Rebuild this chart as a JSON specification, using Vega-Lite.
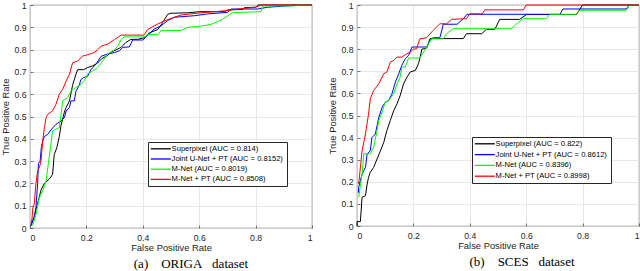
{
  "$schema": "https://vega.github.io/schema/vega-lite/v6.json",
  "padding": {"left": 0, "top": 0, "right": 0, "bottom": 0},
  "spacing": 12,
  "config": {
    "view": {"stroke": "#262626", "strokeWidth": 0.8},
    "axis": {
      "domain": false,
      "grid": true,
      "gridColor": "#e2e2e2",
      "gridWidth": 0.8,
      "tickSize": -3,
      "tickColor": "#262626",
      "tickWidth": 0.6,
      "labelFont": "Liberation Sans",
      "labelFontSize": 8.7,
      "labelColor": "#262626",
      "titleFont": "Liberation Sans",
      "titleFontSize": 9.4,
      "titleFontWeight": "normal",
      "titleColor": "#262626"
    },
    "axisX": {"labelPadding": 8, "titlePadding": 2},
    "axisY": {"labelPadding": 7, "titlePadding": 3},
    "legend": {
      "orient": "none",
      "title": null,
      "symbolType": "M-2,0H8",
      "symbolSize": 16,
      "symbolStrokeWidth": 1.3,
      "labelFont": "Liberation Sans",
      "labelFontSize": 7.6,
      "labelColor": "#000000",
      "labelOffset": 13,
      "rowPadding": 1.2,
      "padding": 3,
      "strokeColor": "#262626",
      "fillColor": "#ffffff"
    },
    "title": {"font": "Liberation Serif", "fontSize": 13, "fontWeight": "normal", "color": "#000000", "orient": "bottom", "offset": 6}
  },
  "resolve": {"scale": {"color": "independent"}, "legend": {"color": "independent"}},
  "datasets": {
    "origa": [
      {"s":"Superpixel (AUC = 0.814)","x":0.003,"y":0.01},{"s":"Superpixel (AUC = 0.814)","x":0.015,"y":0.05},{"s":"Superpixel (AUC = 0.814)","x":0.027,"y":0.11},{"s":"Superpixel (AUC = 0.814)","x":0.035,"y":0.15},{"s":"Superpixel (AUC = 0.814)","x":0.039,"y":0.17},{"s":"Superpixel (AUC = 0.814)","x":0.051,"y":0.2},{"s":"Superpixel (AUC = 0.814)","x":0.069,"y":0.22},{"s":"Superpixel (AUC = 0.814)","x":0.08,"y":0.24},{"s":"Superpixel (AUC = 0.814)","x":0.086,"y":0.33},{"s":"Superpixel (AUC = 0.814)","x":0.095,"y":0.36},{"s":"Superpixel (AUC = 0.814)","x":0.104,"y":0.41},{"s":"Superpixel (AUC = 0.814)","x":0.11,"y":0.46},{"s":"Superpixel (AUC = 0.814)","x":0.122,"y":0.52},{"s":"Superpixel (AUC = 0.814)","x":0.128,"y":0.54},{"s":"Superpixel (AUC = 0.814)","x":0.14,"y":0.57},{"s":"Superpixel (AUC = 0.814)","x":0.151,"y":0.64},{"s":"Superpixel (AUC = 0.814)","x":0.163,"y":0.69},{"s":"Superpixel (AUC = 0.814)","x":0.169,"y":0.71},{"s":"Superpixel (AUC = 0.814)","x":0.19,"y":0.71},{"s":"Superpixel (AUC = 0.814)","x":0.205,"y":0.72},{"s":"Superpixel (AUC = 0.814)","x":0.222,"y":0.727},{"s":"Superpixel (AUC = 0.814)","x":0.24,"y":0.74},{"s":"Superpixel (AUC = 0.814)","x":0.255,"y":0.76},{"s":"Superpixel (AUC = 0.814)","x":0.27,"y":0.77},{"s":"Superpixel (AUC = 0.814)","x":0.29,"y":0.79},{"s":"Superpixel (AUC = 0.814)","x":0.323,"y":0.81},{"s":"Superpixel (AUC = 0.814)","x":0.34,"y":0.832},{"s":"Superpixel (AUC = 0.814)","x":0.358,"y":0.846},{"s":"Superpixel (AUC = 0.814)","x":0.382,"y":0.846},{"s":"Superpixel (AUC = 0.814)","x":0.405,"y":0.853},{"s":"Superpixel (AUC = 0.814)","x":0.423,"y":0.875},{"s":"Superpixel (AUC = 0.814)","x":0.453,"y":0.89},{"s":"Superpixel (AUC = 0.814)","x":0.47,"y":0.92},{"s":"Superpixel (AUC = 0.814)","x":0.488,"y":0.958},{"s":"Superpixel (AUC = 0.814)","x":0.5,"y":0.963},{"s":"Superpixel (AUC = 0.814)","x":0.56,"y":0.965},{"s":"Superpixel (AUC = 0.814)","x":0.6,"y":0.97},{"s":"Superpixel (AUC = 0.814)","x":0.69,"y":0.97},{"s":"Superpixel (AUC = 0.814)","x":0.7,"y":0.978},{"s":"Superpixel (AUC = 0.814)","x":0.755,"y":0.98},{"s":"Superpixel (AUC = 0.814)","x":0.76,"y":0.988},{"s":"Superpixel (AUC = 0.814)","x":0.8,"y":0.99},{"s":"Superpixel (AUC = 0.814)","x":0.81,"y":1},{"s":"Superpixel (AUC = 0.814)","x":1,"y":1},
      {"s":"Joint U-Net + PT (AUC = 0.8152)","x":0.003,"y":0.01},{"s":"Joint U-Net + PT (AUC = 0.8152)","x":0.015,"y":0.05},{"s":"Joint U-Net + PT (AUC = 0.8152)","x":0.021,"y":0.09},{"s":"Joint U-Net + PT (AUC = 0.8152)","x":0.027,"y":0.2},{"s":"Joint U-Net + PT (AUC = 0.8152)","x":0.03,"y":0.29},{"s":"Joint U-Net + PT (AUC = 0.8152)","x":0.036,"y":0.3},{"s":"Joint U-Net + PT (AUC = 0.8152)","x":0.04,"y":0.36},{"s":"Joint U-Net + PT (AUC = 0.8152)","x":0.045,"y":0.39},{"s":"Joint U-Net + PT (AUC = 0.8152)","x":0.051,"y":0.41},{"s":"Joint U-Net + PT (AUC = 0.8152)","x":0.063,"y":0.42},{"s":"Joint U-Net + PT (AUC = 0.8152)","x":0.074,"y":0.44},{"s":"Joint U-Net + PT (AUC = 0.8152)","x":0.092,"y":0.465},{"s":"Joint U-Net + PT (AUC = 0.8152)","x":0.11,"y":0.48},{"s":"Joint U-Net + PT (AUC = 0.8152)","x":0.122,"y":0.495},{"s":"Joint U-Net + PT (AUC = 0.8152)","x":0.128,"y":0.525},{"s":"Joint U-Net + PT (AUC = 0.8152)","x":0.14,"y":0.54},{"s":"Joint U-Net + PT (AUC = 0.8152)","x":0.145,"y":0.57},{"s":"Joint U-Net + PT (AUC = 0.8152)","x":0.157,"y":0.57},{"s":"Joint U-Net + PT (AUC = 0.8152)","x":0.163,"y":0.614},{"s":"Joint U-Net + PT (AUC = 0.8152)","x":0.175,"y":0.64},{"s":"Joint U-Net + PT (AUC = 0.8152)","x":0.18,"y":0.665},{"s":"Joint U-Net + PT (AUC = 0.8152)","x":0.19,"y":0.675},{"s":"Joint U-Net + PT (AUC = 0.8152)","x":0.204,"y":0.68},{"s":"Joint U-Net + PT (AUC = 0.8152)","x":0.216,"y":0.71},{"s":"Joint U-Net + PT (AUC = 0.8152)","x":0.234,"y":0.735},{"s":"Joint U-Net + PT (AUC = 0.8152)","x":0.252,"y":0.77},{"s":"Joint U-Net + PT (AUC = 0.8152)","x":0.275,"y":0.78},{"s":"Joint U-Net + PT (AUC = 0.8152)","x":0.3,"y":0.787},{"s":"Joint U-Net + PT (AUC = 0.8152)","x":0.317,"y":0.795},{"s":"Joint U-Net + PT (AUC = 0.8152)","x":0.329,"y":0.81},{"s":"Joint U-Net + PT (AUC = 0.8152)","x":0.352,"y":0.812},{"s":"Joint U-Net + PT (AUC = 0.8152)","x":0.364,"y":0.843},{"s":"Joint U-Net + PT (AUC = 0.8152)","x":0.4,"y":0.843},{"s":"Joint U-Net + PT (AUC = 0.8152)","x":0.423,"y":0.87},{"s":"Joint U-Net + PT (AUC = 0.8152)","x":0.44,"y":0.892},{"s":"Joint U-Net + PT (AUC = 0.8152)","x":0.465,"y":0.907},{"s":"Joint U-Net + PT (AUC = 0.8152)","x":0.488,"y":0.93},{"s":"Joint U-Net + PT (AUC = 0.8152)","x":0.512,"y":0.945},{"s":"Joint U-Net + PT (AUC = 0.8152)","x":0.583,"y":0.952},{"s":"Joint U-Net + PT (AUC = 0.8152)","x":0.63,"y":0.96},{"s":"Joint U-Net + PT (AUC = 0.8152)","x":0.7,"y":0.967},{"s":"Joint U-Net + PT (AUC = 0.8152)","x":0.713,"y":0.982},{"s":"Joint U-Net + PT (AUC = 0.8152)","x":0.807,"y":0.982},{"s":"Joint U-Net + PT (AUC = 0.8152)","x":0.843,"y":0.99},{"s":"Joint U-Net + PT (AUC = 0.8152)","x":0.925,"y":0.997},{"s":"Joint U-Net + PT (AUC = 0.8152)","x":0.937,"y":1},{"s":"Joint U-Net + PT (AUC = 0.8152)","x":1,"y":1},
      {"s":"M-Net (AUC = 0.8019)","x":0.009,"y":0.01},{"s":"M-Net (AUC = 0.8019)","x":0.021,"y":0.06},{"s":"M-Net (AUC = 0.8019)","x":0.033,"y":0.136},{"s":"M-Net (AUC = 0.8019)","x":0.045,"y":0.166},{"s":"M-Net (AUC = 0.8019)","x":0.057,"y":0.21},{"s":"M-Net (AUC = 0.8019)","x":0.063,"y":0.27},{"s":"M-Net (AUC = 0.8019)","x":0.074,"y":0.375},{"s":"M-Net (AUC = 0.8019)","x":0.08,"y":0.435},{"s":"M-Net (AUC = 0.8019)","x":0.092,"y":0.443},{"s":"M-Net (AUC = 0.8019)","x":0.104,"y":0.45},{"s":"M-Net (AUC = 0.8019)","x":0.11,"y":0.51},{"s":"M-Net (AUC = 0.8019)","x":0.116,"y":0.57},{"s":"M-Net (AUC = 0.8019)","x":0.134,"y":0.585},{"s":"M-Net (AUC = 0.8019)","x":0.145,"y":0.614},{"s":"M-Net (AUC = 0.8019)","x":0.163,"y":0.63},{"s":"M-Net (AUC = 0.8019)","x":0.181,"y":0.645},{"s":"M-Net (AUC = 0.8019)","x":0.193,"y":0.66},{"s":"M-Net (AUC = 0.8019)","x":0.204,"y":0.69},{"s":"M-Net (AUC = 0.8019)","x":0.222,"y":0.704},{"s":"M-Net (AUC = 0.8019)","x":0.24,"y":0.72},{"s":"M-Net (AUC = 0.8019)","x":0.263,"y":0.757},{"s":"M-Net (AUC = 0.8019)","x":0.275,"y":0.78},{"s":"M-Net (AUC = 0.8019)","x":0.3,"y":0.8},{"s":"M-Net (AUC = 0.8019)","x":0.311,"y":0.815},{"s":"M-Net (AUC = 0.8019)","x":0.323,"y":0.845},{"s":"M-Net (AUC = 0.8019)","x":0.334,"y":0.857},{"s":"M-Net (AUC = 0.8019)","x":0.41,"y":0.857},{"s":"M-Net (AUC = 0.8019)","x":0.415,"y":0.868},{"s":"M-Net (AUC = 0.8019)","x":0.455,"y":0.868},{"s":"M-Net (AUC = 0.8019)","x":0.465,"y":0.886},{"s":"M-Net (AUC = 0.8019)","x":0.535,"y":0.886},{"s":"M-Net (AUC = 0.8019)","x":0.56,"y":0.9},{"s":"M-Net (AUC = 0.8019)","x":0.606,"y":0.905},{"s":"M-Net (AUC = 0.8019)","x":0.642,"y":0.913},{"s":"M-Net (AUC = 0.8019)","x":0.683,"y":0.936},{"s":"M-Net (AUC = 0.8019)","x":0.719,"y":0.966},{"s":"M-Net (AUC = 0.8019)","x":0.819,"y":0.97},{"s":"M-Net (AUC = 0.8019)","x":0.825,"y":0.996},{"s":"M-Net (AUC = 0.8019)","x":0.937,"y":0.996},{"s":"M-Net (AUC = 0.8019)","x":0.943,"y":1},{"s":"M-Net (AUC = 0.8019)","x":1,"y":1},
      {"s":"M-Net + PT (AUC = 0.8508)","x":0.003,"y":0.02},{"s":"M-Net + PT (AUC = 0.8508)","x":0.007,"y":0.04},{"s":"M-Net + PT (AUC = 0.8508)","x":0.01,"y":0.09},{"s":"M-Net + PT (AUC = 0.8508)","x":0.015,"y":0.106},{"s":"M-Net + PT (AUC = 0.8508)","x":0.021,"y":0.2},{"s":"M-Net + PT (AUC = 0.8508)","x":0.027,"y":0.256},{"s":"M-Net + PT (AUC = 0.8508)","x":0.033,"y":0.27},{"s":"M-Net + PT (AUC = 0.8508)","x":0.039,"y":0.3},{"s":"M-Net + PT (AUC = 0.8508)","x":0.045,"y":0.39},{"s":"M-Net + PT (AUC = 0.8508)","x":0.051,"y":0.45},{"s":"M-Net + PT (AUC = 0.8508)","x":0.057,"y":0.495},{"s":"M-Net + PT (AUC = 0.8508)","x":0.063,"y":0.51},{"s":"M-Net + PT (AUC = 0.8508)","x":0.08,"y":0.525},{"s":"M-Net + PT (AUC = 0.8508)","x":0.092,"y":0.555},{"s":"M-Net + PT (AUC = 0.8508)","x":0.104,"y":0.6},{"s":"M-Net + PT (AUC = 0.8508)","x":0.116,"y":0.622},{"s":"M-Net + PT (AUC = 0.8508)","x":0.128,"y":0.659},{"s":"M-Net + PT (AUC = 0.8508)","x":0.14,"y":0.689},{"s":"M-Net + PT (AUC = 0.8508)","x":0.151,"y":0.741},{"s":"M-Net + PT (AUC = 0.8508)","x":0.169,"y":0.749},{"s":"M-Net + PT (AUC = 0.8508)","x":0.187,"y":0.771},{"s":"M-Net + PT (AUC = 0.8508)","x":0.21,"y":0.779},{"s":"M-Net + PT (AUC = 0.8508)","x":0.228,"y":0.787},{"s":"M-Net + PT (AUC = 0.8508)","x":0.24,"y":0.8},{"s":"M-Net + PT (AUC = 0.8508)","x":0.252,"y":0.815},{"s":"M-Net + PT (AUC = 0.8508)","x":0.276,"y":0.825},{"s":"M-Net + PT (AUC = 0.8508)","x":0.3,"y":0.845},{"s":"M-Net + PT (AUC = 0.8508)","x":0.323,"y":0.865},{"s":"M-Net + PT (AUC = 0.8508)","x":0.404,"y":0.865},{"s":"M-Net + PT (AUC = 0.8508)","x":0.417,"y":0.89},{"s":"M-Net + PT (AUC = 0.8508)","x":0.453,"y":0.915},{"s":"M-Net + PT (AUC = 0.8508)","x":0.49,"y":0.935},{"s":"M-Net + PT (AUC = 0.8508)","x":0.535,"y":0.955},{"s":"M-Net + PT (AUC = 0.8508)","x":0.606,"y":0.965},{"s":"M-Net + PT (AUC = 0.8508)","x":0.7,"y":0.975},{"s":"M-Net + PT (AUC = 0.8508)","x":0.725,"y":0.98},{"s":"M-Net + PT (AUC = 0.8508)","x":0.8,"y":0.99},{"s":"M-Net + PT (AUC = 0.8508)","x":0.82,"y":1},{"s":"M-Net + PT (AUC = 0.8508)","x":1,"y":1}
    ],
    "sces": [
      {"s":"Superpixel (AUC = 0.822)","x":0,"y":0},{"s":"Superpixel (AUC = 0.822)","x":0,"y":0.02},{"s":"Superpixel (AUC = 0.822)","x":0.012,"y":0.02},{"s":"Superpixel (AUC = 0.822)","x":0.018,"y":0.13},{"s":"Superpixel (AUC = 0.822)","x":0.03,"y":0.137},{"s":"Superpixel (AUC = 0.822)","x":0.036,"y":0.19},{"s":"Superpixel (AUC = 0.822)","x":0.041,"y":0.22},{"s":"Superpixel (AUC = 0.822)","x":0.047,"y":0.243},{"s":"Superpixel (AUC = 0.822)","x":0.059,"y":0.265},{"s":"Superpixel (AUC = 0.822)","x":0.071,"y":0.303},{"s":"Superpixel (AUC = 0.822)","x":0.083,"y":0.34},{"s":"Superpixel (AUC = 0.822)","x":0.095,"y":0.379},{"s":"Superpixel (AUC = 0.822)","x":0.106,"y":0.432},{"s":"Superpixel (AUC = 0.822)","x":0.118,"y":0.477},{"s":"Superpixel (AUC = 0.822)","x":0.13,"y":0.522},{"s":"Superpixel (AUC = 0.822)","x":0.142,"y":0.553},{"s":"Superpixel (AUC = 0.822)","x":0.153,"y":0.59},{"s":"Superpixel (AUC = 0.822)","x":0.165,"y":0.643},{"s":"Superpixel (AUC = 0.822)","x":0.177,"y":0.673},{"s":"Superpixel (AUC = 0.822)","x":0.189,"y":0.697},{"s":"Superpixel (AUC = 0.822)","x":0.207,"y":0.704},{"s":"Superpixel (AUC = 0.822)","x":0.218,"y":0.734},{"s":"Superpixel (AUC = 0.822)","x":0.224,"y":0.764},{"s":"Superpixel (AUC = 0.822)","x":0.23,"y":0.8},{"s":"Superpixel (AUC = 0.822)","x":0.247,"y":0.805},{"s":"Superpixel (AUC = 0.822)","x":0.259,"y":0.848},{"s":"Superpixel (AUC = 0.822)","x":0.377,"y":0.848},{"s":"Superpixel (AUC = 0.822)","x":0.388,"y":0.87},{"s":"Superpixel (AUC = 0.822)","x":0.442,"y":0.87},{"s":"Superpixel (AUC = 0.822)","x":0.459,"y":0.89},{"s":"Superpixel (AUC = 0.822)","x":0.489,"y":0.89},{"s":"Superpixel (AUC = 0.822)","x":0.506,"y":0.935},{"s":"Superpixel (AUC = 0.822)","x":0.577,"y":0.935},{"s":"Superpixel (AUC = 0.822)","x":0.601,"y":0.957},{"s":"Superpixel (AUC = 0.822)","x":0.778,"y":0.957},{"s":"Superpixel (AUC = 0.822)","x":0.8,"y":1},{"s":"Superpixel (AUC = 0.822)","x":1,"y":1},
      {"s":"Joint U-Net + PT (AUC = 0.8612)","x":0.005,"y":0.15},{"s":"Joint U-Net + PT (AUC = 0.8612)","x":0.006,"y":0.175},{"s":"Joint U-Net + PT (AUC = 0.8612)","x":0.018,"y":0.235},{"s":"Joint U-Net + PT (AUC = 0.8612)","x":0.03,"y":0.265},{"s":"Joint U-Net + PT (AUC = 0.8612)","x":0.036,"y":0.327},{"s":"Joint U-Net + PT (AUC = 0.8612)","x":0.047,"y":0.34},{"s":"Joint U-Net + PT (AUC = 0.8612)","x":0.053,"y":0.4},{"s":"Joint U-Net + PT (AUC = 0.8612)","x":0.065,"y":0.416},{"s":"Joint U-Net + PT (AUC = 0.8612)","x":0.077,"y":0.49},{"s":"Joint U-Net + PT (AUC = 0.8612)","x":0.089,"y":0.537},{"s":"Joint U-Net + PT (AUC = 0.8612)","x":0.1,"y":0.56},{"s":"Joint U-Net + PT (AUC = 0.8612)","x":0.112,"y":0.567},{"s":"Joint U-Net + PT (AUC = 0.8612)","x":0.124,"y":0.598},{"s":"Joint U-Net + PT (AUC = 0.8612)","x":0.136,"y":0.651},{"s":"Joint U-Net + PT (AUC = 0.8612)","x":0.148,"y":0.689},{"s":"Joint U-Net + PT (AUC = 0.8612)","x":0.159,"y":0.727},{"s":"Joint U-Net + PT (AUC = 0.8612)","x":0.171,"y":0.757},{"s":"Joint U-Net + PT (AUC = 0.8612)","x":0.183,"y":0.772},{"s":"Joint U-Net + PT (AUC = 0.8612)","x":0.195,"y":0.81},{"s":"Joint U-Net + PT (AUC = 0.8612)","x":0.247,"y":0.81},{"s":"Joint U-Net + PT (AUC = 0.8612)","x":0.259,"y":0.84},{"s":"Joint U-Net + PT (AUC = 0.8612)","x":0.27,"y":0.852},{"s":"Joint U-Net + PT (AUC = 0.8612)","x":0.294,"y":0.852},{"s":"Joint U-Net + PT (AUC = 0.8612)","x":0.306,"y":0.913},{"s":"Joint U-Net + PT (AUC = 0.8612)","x":0.355,"y":0.913},{"s":"Joint U-Net + PT (AUC = 0.8612)","x":0.377,"y":0.938},{"s":"Joint U-Net + PT (AUC = 0.8612)","x":0.39,"y":0.958},{"s":"Joint U-Net + PT (AUC = 0.8612)","x":0.72,"y":0.958},{"s":"Joint U-Net + PT (AUC = 0.8612)","x":0.73,"y":0.982},{"s":"Joint U-Net + PT (AUC = 0.8612)","x":0.955,"y":0.982},{"s":"Joint U-Net + PT (AUC = 0.8612)","x":0.965,"y":1},{"s":"Joint U-Net + PT (AUC = 0.8612)","x":1,"y":1},
      {"s":"M-Net (AUC = 0.8396)","x":0.006,"y":0.13},{"s":"M-Net (AUC = 0.8396)","x":0.018,"y":0.235},{"s":"M-Net (AUC = 0.8396)","x":0.024,"y":0.327},{"s":"M-Net (AUC = 0.8396)","x":0.047,"y":0.327},{"s":"M-Net (AUC = 0.8396)","x":0.059,"y":0.356},{"s":"M-Net (AUC = 0.8396)","x":0.071,"y":0.431},{"s":"M-Net (AUC = 0.8396)","x":0.077,"y":0.477},{"s":"M-Net (AUC = 0.8396)","x":0.089,"y":0.515},{"s":"M-Net (AUC = 0.8396)","x":0.1,"y":0.56},{"s":"M-Net (AUC = 0.8396)","x":0.112,"y":0.567},{"s":"M-Net (AUC = 0.8396)","x":0.13,"y":0.598},{"s":"M-Net (AUC = 0.8396)","x":0.142,"y":0.643},{"s":"M-Net (AUC = 0.8396)","x":0.153,"y":0.673},{"s":"M-Net (AUC = 0.8396)","x":0.159,"y":0.719},{"s":"M-Net (AUC = 0.8396)","x":0.171,"y":0.719},{"s":"M-Net (AUC = 0.8396)","x":0.183,"y":0.76},{"s":"M-Net (AUC = 0.8396)","x":0.223,"y":0.76},{"s":"M-Net (AUC = 0.8396)","x":0.247,"y":0.81},{"s":"M-Net (AUC = 0.8396)","x":0.264,"y":0.847},{"s":"M-Net (AUC = 0.8396)","x":0.306,"y":0.847},{"s":"M-Net (AUC = 0.8396)","x":0.318,"y":0.87},{"s":"M-Net (AUC = 0.8396)","x":0.341,"y":0.893},{"s":"M-Net (AUC = 0.8396)","x":0.548,"y":0.893},{"s":"M-Net (AUC = 0.8396)","x":0.566,"y":0.915},{"s":"M-Net (AUC = 0.8396)","x":0.589,"y":0.938},{"s":"M-Net (AUC = 0.8396)","x":0.672,"y":0.938},{"s":"M-Net (AUC = 0.8396)","x":0.684,"y":0.958},{"s":"M-Net (AUC = 0.8396)","x":0.778,"y":0.958},{"s":"M-Net (AUC = 0.8396)","x":0.79,"y":0.976},{"s":"M-Net (AUC = 0.8396)","x":0.955,"y":0.976},{"s":"M-Net (AUC = 0.8396)","x":0.967,"y":1},{"s":"M-Net (AUC = 0.8396)","x":1,"y":1},
      {"s":"M-Net + PT (AUC = 0.8998)","x":0.006,"y":0.19},{"s":"M-Net + PT (AUC = 0.8998)","x":0.018,"y":0.34},{"s":"M-Net + PT (AUC = 0.8998)","x":0.03,"y":0.416},{"s":"M-Net + PT (AUC = 0.8998)","x":0.041,"y":0.507},{"s":"M-Net + PT (AUC = 0.8998)","x":0.047,"y":0.575},{"s":"M-Net + PT (AUC = 0.8998)","x":0.059,"y":0.613},{"s":"M-Net + PT (AUC = 0.8998)","x":0.077,"y":0.643},{"s":"M-Net + PT (AUC = 0.8998)","x":0.095,"y":0.689},{"s":"M-Net + PT (AUC = 0.8998)","x":0.106,"y":0.697},{"s":"M-Net + PT (AUC = 0.8998)","x":0.118,"y":0.742},{"s":"M-Net + PT (AUC = 0.8998)","x":0.13,"y":0.749},{"s":"M-Net + PT (AUC = 0.8998)","x":0.142,"y":0.764},{"s":"M-Net + PT (AUC = 0.8998)","x":0.159,"y":0.764},{"s":"M-Net + PT (AUC = 0.8998)","x":0.177,"y":0.78},{"s":"M-Net + PT (AUC = 0.8998)","x":0.189,"y":0.787},{"s":"M-Net + PT (AUC = 0.8998)","x":0.2,"y":0.8},{"s":"M-Net + PT (AUC = 0.8998)","x":0.211,"y":0.802},{"s":"M-Net + PT (AUC = 0.8998)","x":0.223,"y":0.847},{"s":"M-Net + PT (AUC = 0.8998)","x":0.247,"y":0.852},{"s":"M-Net + PT (AUC = 0.8998)","x":0.27,"y":0.885},{"s":"M-Net + PT (AUC = 0.8998)","x":0.282,"y":0.9},{"s":"M-Net + PT (AUC = 0.8998)","x":0.294,"y":0.915},{"s":"M-Net + PT (AUC = 0.8998)","x":0.318,"y":0.915},{"s":"M-Net + PT (AUC = 0.8998)","x":0.335,"y":0.935},{"s":"M-Net + PT (AUC = 0.8998)","x":0.388,"y":0.938},{"s":"M-Net + PT (AUC = 0.8998)","x":0.4,"y":0.96},{"s":"M-Net + PT (AUC = 0.8998)","x":0.445,"y":0.96},{"s":"M-Net + PT (AUC = 0.8998)","x":0.453,"y":0.978},{"s":"M-Net + PT (AUC = 0.8998)","x":0.59,"y":0.978},{"s":"M-Net + PT (AUC = 0.8998)","x":0.6,"y":1},{"s":"M-Net + PT (AUC = 0.8998)","x":1,"y":1}
    ]
  },
  "hconcat": [
    {
      "width": 282,
      "height": 223,
      "data": {"name": "origa"},
      "title": {"text": "(a)\u00a0\u00a0\u00a0 ORIGA\u00a0\u00a0 dataset", "dx": 20},
      "mark": {"type": "line", "strokeWidth": 1},
      "encoding": {
        "x": {"field": "x", "type": "quantitative", "scale": {"domain": [0, 1], "nice": false}, "axis": {"title": "False Positive Rate", "values": [0, 0.2, 0.4, 0.6, 0.8, 1], "format": "~g"}},
        "y": {"field": "y", "type": "quantitative", "scale": {"domain": [0, 1], "nice": false}, "axis": {"title": "True Positive Rate", "values": [0, 0.1, 0.2, 0.3, 0.4, 0.5, 0.6, 0.7, 0.8, 0.9, 1], "format": "~g"}},
        "color": {"field": "s", "type": "nominal", "scale": {"domain": ["Superpixel (AUC = 0.814)", "Joint U-Net + PT (AUC = 0.8152)", "M-Net (AUC = 0.8019)", "M-Net + PT (AUC = 0.8508)"], "range": ["#000000", "#0000ff", "#00ff00", "#ff0000"]}, "legend": {"legendX": 118, "legendY": 137}},
        "order": {"value": null}
      }
    },
    {
      "width": 282,
      "height": 221,
      "data": {"name": "sces"},
      "title": {"text": "(b)\u00a0\u00a0\u00a0 SCES\u00a0\u00a0 dataset", "dx": 24},
      "mark": {"type": "line", "strokeWidth": 1},
      "encoding": {
        "x": {"field": "x", "type": "quantitative", "scale": {"domain": [0, 1], "nice": false}, "axis": {"title": "False Positive Rate", "values": [0, 0.2, 0.4, 0.6, 0.8, 1], "format": "~g"}},
        "y": {"field": "y", "type": "quantitative", "scale": {"domain": [0, 1], "nice": false}, "axis": {"title": "True Positive Rate", "values": [0, 0.1, 0.2, 0.3, 0.4, 0.5, 0.6, 0.7, 0.8, 0.9, 1], "format": "~g"}},
        "color": {"field": "s", "type": "nominal", "scale": {"domain": ["Superpixel (AUC = 0.822)", "Joint U-Net + PT (AUC = 0.8612)", "M-Net (AUC = 0.8396)", "M-Net + PT (AUC = 0.8998)"], "range": ["#000000", "#0000ff", "#00ff00", "#ff0000"]}, "legend": {"legendX": 115, "legendY": 132, "rowPadding": 1.8}},
        "order": {"value": null}
      }
    }
  ]
}
